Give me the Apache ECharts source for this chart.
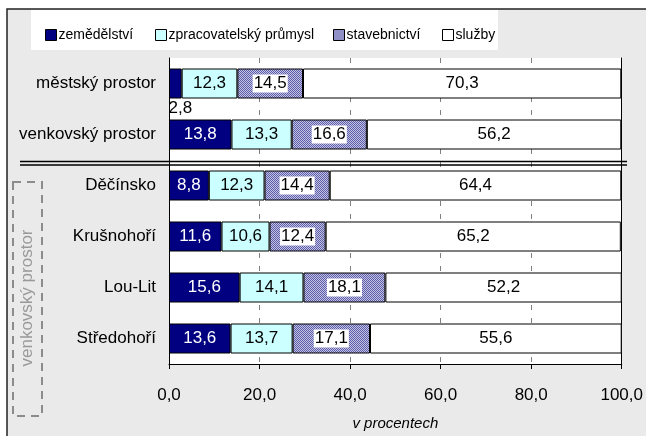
<!DOCTYPE html>
<html>
<head>
<meta charset="utf-8">
<script src="https://cdn.jsdelivr.net/npm/echarts@6/dist/echarts.min.js"></script>
<style>
  html, body { margin: 0; padding: 0; background: #fff; }
  #chart { width: 646px; height: 436px; }
</style>
</head>
<body>
<div id="chart"></div>
<script>
  // kategorie (shora dolů)
  const regions = ['městský prostor', 'venkovský prostor', 'Děčínsko', 'Krušnohoří', 'Lou-Lit', 'Středohoří']
  const sectorNames = ['zemědělství', 'zpracovatelský průmysl', 'stavebnictví', 'služby']
  // podíly v procentech
  const zemedelstvi = [2.8, 13.8, 8.8, 11.6, 15.6, 13.6]
  const zpracovatelsky = [12.3, 13.3, 12.3, 10.6, 14.1, 13.7]
  const stavebnictvi = [14.5, 16.6, 14.4, 12.4, 18.1, 17.1]
  const sluzby = [70.3, 56.2, 64.4, 65.2, 52.2, 55.6]
  const xTicks = [0, 20, 40, 60, 80, 100]

  const FONT = '"Liberation Sans", Arial, sans-serif'
  const fmt = v => Number(v).toFixed(1).replace('.', ',')

  // šrafovaná výplň pro stavebnictví
  const pat = document.createElement('canvas')
  pat.width = 2
  pat.height = 2
  const pc = pat.getContext('2d')
  pc.fillStyle = '#c4c4e4'
  pc.fillRect(0, 0, 2, 2)
  pc.fillStyle = '#5c5ca8'
  pc.fillRect(0, 0, 1, 1)
  pc.fillRect(1, 1, 1, 1)
  const hatch = { image: pat, repeat: 'repeat' }

  const colors = ['#000080', '#ccffff', hatch, '#ffffff']
  const labelColors = ['#fff', '#000', '#000', '#000']
  const values = [zemedelstvi, zpracovatelsky, stavebnictvi, sluzby]

  const series = sectorNames.map(function (name, i) {
    return {
      name: name,
      type: 'bar',
      stack: 'total',
      barWidth: 30,
      itemStyle: { color: colors[i], borderColor: '#000', borderWidth: 1 },
      label: {
        show: true,
        position: 'inside',
        color: labelColors[i],
        fontFamily: FONT,
        fontSize: 17,
        backgroundColor: i === 2 ? '#fff' : 'transparent',
        padding: i === 2 ? [1, 1, 0, 1] : 0,
        formatter: p => fmt(p.value)
      },
      data: values[i].map(function (v) {
        // malá hodnota se popisuje pod sloupcem
        if (i === 0 && v < 5) {
          return { value: v, label: { position: 'bottom', distance: 1, color: '#000', offset: [5, 0] } }
        }
        return v
      })
    }
  })

  const legendLeft = [40, 150, 328, 437]
  const legends = sectorNames.map(function (name, i) {
    return {
      data: [name],
      left: legendLeft[i],
      top: 23,
      itemWidth: 11,
      itemHeight: 11,
      itemGap: 4,
      icon: 'rect',
      selectedMode: false,
      itemStyle: { borderColor: '#000', borderWidth: 1 },
      textStyle: { fontFamily: FONT, fontSize: 14, color: '#000', padding: [0, 0, 0, -3] }
    }
  })

  const chart = echarts.init(document.getElementById('chart'))
  chart.setOption({
    animation: false,
    backgroundColor: '#fff',
    legend: legends,
    grid: {
      left: 169,
      right: 22,
      top: 58,
      height: 311,
      show: true,
      backgroundColor: '#fff',
      borderWidth: 0
    },
    xAxis: {
      type: 'value',
      min: xTicks[0],
      max: xTicks[xTicks.length - 1],
      interval: 20,
      name: 'v procentech',
      nameLocation: 'middle',
      nameGap: 52,
      nameTextStyle: { fontFamily: FONT, fontSize: 15, fontStyle: 'italic', color: '#000' },
      axisLine: { show: true, lineStyle: { color: '#000', width: 1 } },
      axisTick: { show: true, length: 5, lineStyle: { color: '#000' } },
      axisLabel: { fontFamily: FONT, fontSize: 17, color: '#000', margin: 23, formatter: fmt },
      splitLine: { show: true, lineStyle: { color: '#808080', type: [5, 8], width: 1 } }
    },
    yAxis: [{
      type: 'category',
      data: regions,
      inverse: true,
      axisLine: { show: true, lineStyle: { color: '#000', width: 1 } },
      axisTick: { show: false },
      axisLabel: { fontFamily: FONT, fontSize: 17, color: '#000', margin: 13 }
    }, {
      type: 'category',
      data: regions,
      inverse: true,
      position: 'right',
      axisLine: { show: true, lineStyle: { color: '#000', width: 1 } },
      axisTick: { show: false },
      axisLabel: { show: false }
    }],
    graphic: [
      // šedé pozadí a rámeček
      { type: 'rect', z: -10, shape: { x: 7, y: 9, width: 660, height: 440 },
        style: { fill: '#eaeaea', stroke: '#222', lineWidth: 1.5 } },
      // bílé pole legendy
      { type: 'rect', z: -5, shape: { x: 31, y: 10, width: 467, height: 40 },
        style: { fill: '#fff' } },
      // dvojitá dělicí čára
      { type: 'line', z: 100, shape: { x1: 20, y1: 161.5, x2: 627, y2: 161.5 },
        style: { stroke: '#000', lineWidth: 1.5 } },
      { type: 'line', z: 100, shape: { x1: 20, y1: 165, x2: 627, y2: 165 },
        style: { stroke: '#000', lineWidth: 1.5 } },
      // čárkovaný rámeček s popisem
      { type: 'rect', z: 10, shape: { x: 13, y: 182, width: 29, height: 234 },
        style: { fill: 'transparent', stroke: '#8c8c8c', lineWidth: 2, lineDash: [8, 6] } },
      { type: 'text', z: 11, x: 27, y: 298, rotation: Math.PI / 2,
        style: { text: 'venkovský prostor', fill: '#999', font: '17px ' + FONT,
          textAlign: 'center', textVerticalAlign: 'middle' } }
    ],
    series: series
  })
</script>
</body>
</html>
